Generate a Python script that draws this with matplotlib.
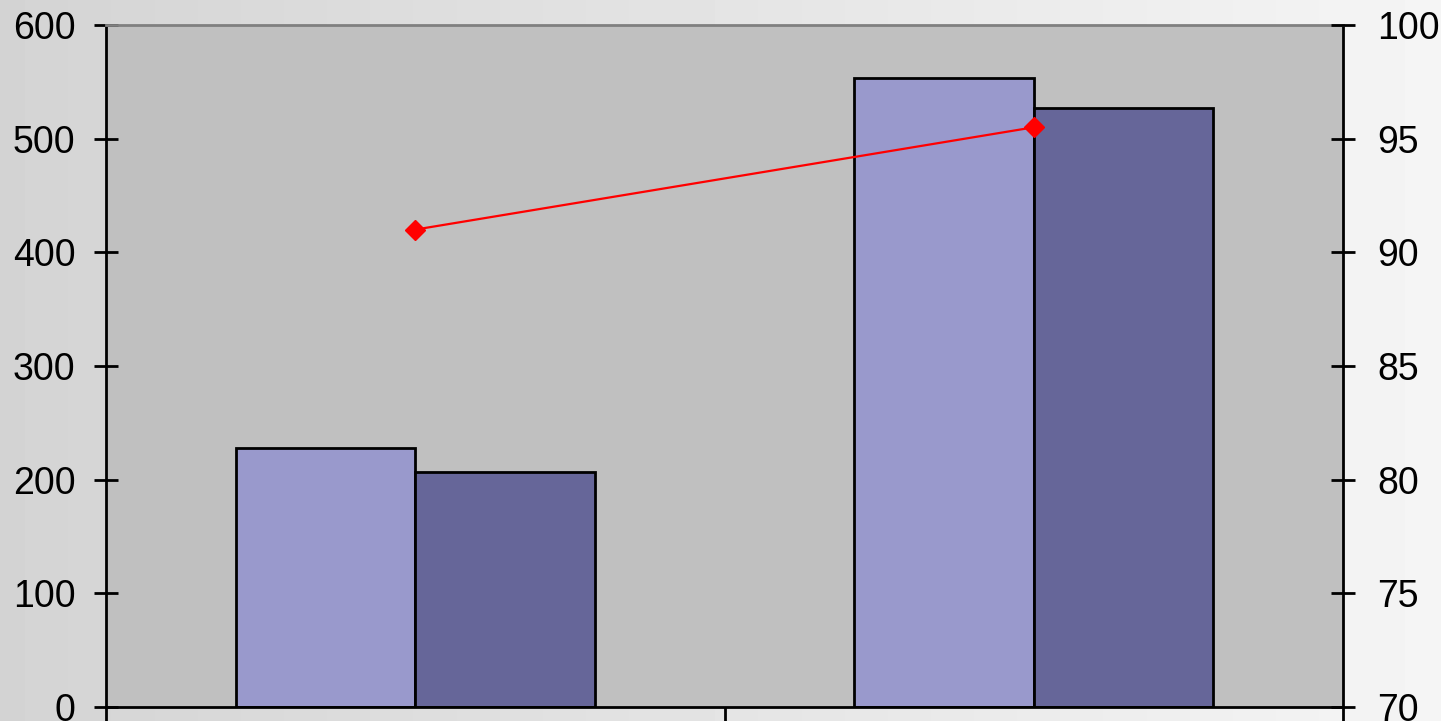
import numpy as np
import matplotlib
matplotlib.use('Agg')
import matplotlib.pyplot as plt

plt.rcParams['font.family'] = ['Liberation Sans', 'DejaVu Sans']

categories = ['A', 'B']
series_1 = [228, 553]
series_2 = [207, 527]
line_values = [91.0, 95.5]

fig = plt.figure(figsize=(14.41, 7.21), dpi=100)

# background gradient, darker on the left
bg = fig.add_axes([0, 0, 1, 1], zorder=-10)
grad = np.linspace(0.83, 0.96, 256).reshape(1, -1)
bg.imshow(grad, cmap='gray', vmin=0, vmax=1, aspect='auto', extent=[0, 1, 0, 1],
          interpolation='bilinear')
bg.axis('off')

ax = fig.add_axes([106 / 1441, 1 - 707 / 721, 1237 / 1441, 682 / 721])
ax.set_facecolor('#c0c0c0')

x = np.arange(len(categories))
w = 0.29
ax.bar(x - w / 2, series_1, w, color='#9999cc', edgecolor='black', linewidth=2)
ax.bar(x + w / 2, series_2, w, color='#666699', edgecolor='black', linewidth=2)

ax.set_xlim(-0.5, 1.5)
ax.set_ylim(0, 600)
ax.set_yticks(range(0, 601, 100))
ax.set_xticks([-0.5, 0.5, 1.5])
ax.set_xticklabels([])
ax.tick_params(axis='x', direction='out', length=12, width=2)
ax.tick_params(axis='y', direction='inout', length=17, width=2, labelsize=27, pad=13.5)

for s in ['left', 'bottom', 'right']:
    ax.spines[s].set_linewidth(2)
    ax.spines[s].set_color('black')
ax.spines['top'].set_color('#808080')
ax.spines['top'].set_linewidth(2)

ax2 = ax.twinx()
ax2.plot(x, line_values, color='red', linewidth=1.6, marker='D', markersize=10)
ax2.set_ylim(70, 100)
ax2.set_yticks(range(70, 101, 5))
ax2.tick_params(axis='y', direction='inout', length=17, width=2, labelsize=27, pad=16)
for s in ax2.spines.values():
    s.set_visible(False)

fig.savefig('out.png', dpi=100)
